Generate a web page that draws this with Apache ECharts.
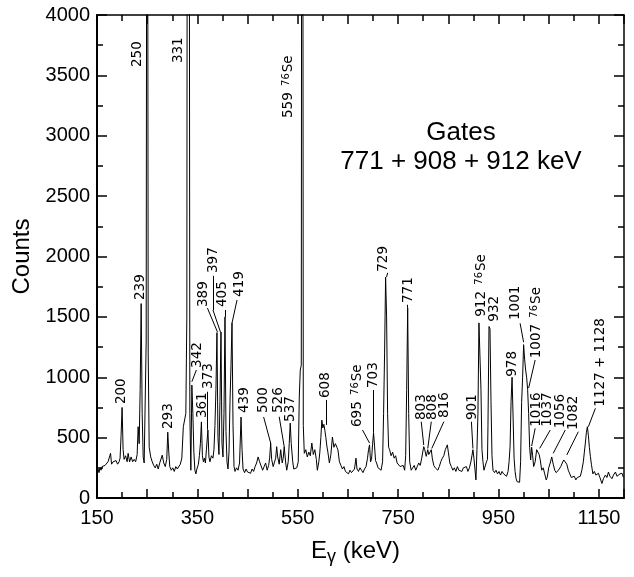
<!DOCTYPE html>
<html>
<head>
<meta charset="utf-8">
<script src="https://cdn.jsdelivr.net/npm/echarts@6/dist/echarts.min.js"></script>
<style>
    html, body {margin: 0; padding: 0; background: #fff;}
    #szChart {width: 634px; height: 577px;}
</style>
</head>
<body>
<div id="szChart"></div>
<script>
// spectrum: energy (keV) and counts
var energy = [150, 152, 154, 156, 158, 160, 163, 166, 169, 172, 175, 177, 179, 182, 185, 188, 191, 194, 196, 198,
    200, 202, 204, 207, 210, 212, 215, 218, 221, 224, 227, 230, 232, 234, 236, 238, 240, 242, 244, 246,
    248, 250, 252, 254, 257, 260, 263, 266, 269, 272, 275, 278, 280, 283, 286, 289, 291, 293, 295, 298,
    301, 304, 307, 310, 313, 316, 319, 322, 325, 327, 329, 331, 333, 335, 337, 339, 341, 343, 345, 347,
    349, 352, 354, 356, 358, 360, 362, 364, 366, 368, 371, 373, 375, 378, 381, 383, 385, 387, 389, 391,
    393, 395, 397, 399, 401, 403, 405, 407, 409, 411, 413, 415, 417, 419, 421, 423, 425, 428, 431, 434,
    437, 439, 441, 444, 447, 450, 453, 456, 459, 462, 465, 468, 471, 474, 477, 480, 483, 486, 489, 492,
    494, 496, 498, 501, 503, 506, 508, 510, 513, 516, 519, 521, 523, 526, 528, 531, 533, 535, 537, 540,
    542, 545, 548, 551, 553, 555, 557, 559, 561, 563, 566, 569, 572, 575, 578, 581, 584, 587, 589, 592,
    594, 596, 598, 600, 602, 604, 606, 608, 610, 613, 616, 619, 622, 625, 628, 630, 633, 636, 639, 642,
    645, 648, 651, 654, 657, 660, 663, 666, 668, 671, 674, 677, 680, 683, 686, 689, 691, 693, 695, 697,
    699, 701, 703, 705, 707, 710, 713, 716, 719, 721, 723, 725, 727, 729, 731, 733, 736, 739, 742, 745,
    748, 751, 754, 757, 760, 763, 765, 767, 769, 771, 773, 776, 779, 782, 785, 788, 791, 794, 797, 799,
    801, 803, 806, 809, 811, 813, 816, 818, 821, 824, 827, 829, 832, 835, 838, 841, 844, 846, 848, 850,
    853, 856, 859, 862, 865, 868, 871, 874, 877, 880, 883, 886, 889, 892, 895, 897, 899, 901, 903, 905,
    907, 909, 911, 913, 915, 917, 919, 921, 923, 926, 928, 929, 931, 933, 935, 937, 939, 942, 945, 948,
    951, 954, 957, 960, 963, 966, 969, 971, 973, 975, 977, 979, 981, 983, 985, 987, 989, 992, 994, 996,
    998, 1000, 1002, 1004, 1006, 1008, 1010, 1012, 1014, 1016, 1018, 1020, 1023, 1026, 1029, 1031, 1033, 1036, 1039, 1042,
    1045, 1047, 1050, 1053, 1056, 1059, 1062, 1065, 1068, 1071, 1074, 1077, 1080, 1083, 1086, 1089, 1092, 1095, 1098, 1101,
    1104, 1107, 1110, 1113, 1116, 1119, 1121, 1123, 1125, 1127, 1129, 1131, 1133, 1135, 1138, 1141, 1144, 1146, 1149, 1152,
    1156, 1159, 1163, 1166, 1169, 1172, 1176, 1179, 1183, 1186, 1189, 1192, 1196, 1199];
var counts = [180, 240, 210, 250, 230, 260, 250, 270, 280, 300, 290, 370, 280, 300, 290, 310, 280, 300, 330, 520,
    750, 400, 320, 350, 300, 370, 300, 340, 300, 320, 300, 360, 590, 450, 900, 1610, 700, 340, 290, 300,
    1300, 9000, 1200, 420, 340, 300, 270, 250, 280, 240, 290, 300, 355, 290, 260, 320, 545, 380, 260, 230,
    250, 220, 260, 240, 250, 280, 330, 590, 600, 700, 1500, 12000, 9000, 700, 230, 935, 700, 380, 230, 200,
    240, 280, 350, 450, 630, 350, 300, 330, 290, 400, 563, 340, 300, 350, 330, 400, 600, 900, 1370, 500,
    360, 800, 1375, 450, 340, 700, 1500, 550, 300, 240, 380, 800, 1100, 1450, 600, 260, 220, 250, 230, 290,
    670, 400, 240, 210, 240, 215, 230, 205, 240, 220, 260, 290, 340, 300, 310, 230, 260, 290, 230, 270,
    330, 455, 320, 260, 250, 330, 425, 340, 280, 400, 290, 330, 425, 290, 230, 300, 450, 620, 450, 300,
    240, 230, 250, 300, 836, 1060, 1100, 12000, 600, 370, 400, 340, 380, 350, 455, 360, 400, 320, 230, 300,
    380, 500, 645, 580, 610, 560, 500, 430, 380, 290, 360, 505, 420, 450, 420, 400, 300, 270, 240, 260,
    220, 230, 200, 230, 210, 220, 240, 330, 240, 220, 250, 230, 210, 240, 260, 330, 400, 440, 300, 320,
    440, 540, 430, 310, 290, 250, 260, 230, 300, 700, 1200, 1830, 1500, 700, 420, 400, 350, 380, 330, 350,
    290, 300, 260, 250, 270, 230, 350, 900, 1575, 700, 300, 230, 250, 270, 230, 260, 290, 270, 330, 380,
    425, 400, 345, 400, 360, 345, 400, 330, 270, 250, 240, 230, 260, 300, 330, 350, 400, 410, 440, 380,
    290, 260, 230, 250, 220, 260, 230, 240, 220, 250, 240, 260, 220, 250, 300, 350, 400, 330, 240, 150,
    400, 700, 1450, 1440, 900, 400, 300, 230, 230, 300, 320, 600, 1420, 1400, 800, 350, 230, 210, 230, 200,
    220, 190, 220, 200, 210, 180, 220, 300, 425, 800, 1000, 670, 330, 220, 160, 135, 140, 130, 300, 790,
    1000, 1270, 1150, 1060, 1000, 900, 700, 420, 315, 420, 350, 260, 300, 400, 415, 360, 320, 230, 250, 200,
    150, 170, 250, 290, 340, 280, 230, 210, 205, 240, 260, 290, 315, 330, 280, 230, 200, 170, 160, 180,
    150, 170, 160, 180, 230, 300, 380, 455, 540, 590, 520, 420, 345, 280, 200, 220, 190, 175, 205, 170,
    120, 160, 190, 170, 215, 180, 160, 190, 215, 180, 175, 200, 205, 170];

// peak labels, anchored at the lower end of the upright text (keV, counts)
var peakLabels = ['200', '239', '250', '331', '559 {s|76}Se', '293', '342', '361', '373', '389', '397', '405', '419',
    '439', '500', '526', '537', '608', '695 {s|76}Se', '703', '729', '771', '803', '808', '816', '901',
    '912 {s|76}Se', '932', '978', '1001', '1007 {s|76}Se', '1016', '1037', '1056', '1082', '1127 + 1128'];
var peakLabelAt = [[198, 778], [236, 1640], [231, 3569], [312, 3602], [531, 3147], [292, 571], [350, 1077], [361, 662],
    [373, 903], [362, 1582], [382, 1863], [400, 1582], [434, 1665], [444, 704], [482, 704], [511, 704], [536, 630],
    [606, 828], [669, 588], [701, 911], [721, 1874], [771, 1615], [796, 646], [819, 646], [842, 663], [899, 646],
    [916, 1501], [941, 1460], [978, 1004], [984, 1474], [1026, 1157], [1026, 590], [1048, 590], [1074, 577],
    [1100, 563], [1154, 756]];
// leader lines from label to peak
var leaders = [
    [[348, 1060], [339, 963]], [[370, 880], [370, 565]], [[370, 1573], [390, 1375]],
    [[381, 1840], [381, 1557]], [[381, 1557], [396, 1375]], [[405, 1557], [405, 1500]],
    [[429, 1640], [419, 1449]], [[482, 671], [496, 455]], [[513, 673], [523, 425]],
    [[606, 812], [606, 605]], [[679, 563], [693, 455]], [[701, 894], [701, 540]],
    [[729, 1865], [727, 1830]], [[769, 1600], [769, 1575]], [[796, 632], [801, 439]],
    [[816, 632], [809, 410]], [[841, 632], [817, 410]], [[896, 632], [899, 410]],
    [[993, 1447], [1000, 1290]], [[1023, 1143], [1010, 910]], [[1023, 577], [1016, 430]],
    [[1053, 563], [1032, 411]], [[1083, 563], [1059, 370]], [[1109, 549], [1086, 356]],
    [[1143, 743], [1129, 590]]];

var xRange = [150, 1200];
var yRange = [0, 4000];

function generateSpectrum() {
    var data = [];
    for (var i = 0; i < energy.length; i++) {
        data.push([energy[i], counts[i]]);
    }
    var labelData = [];
    for (var i = 0; i < peakLabels.length; i++) {
        labelData.push({name: peakLabels[i], coord: peakLabelAt[i]});
    }
    var lineData = [];
    for (var i = 0; i < leaders.length; i++) {
        lineData.push([{coord: leaders[i][0]}, {coord: leaders[i][1]}]);
    }

    var font = 'Liberation Sans';
    var black = '#000';
    function makeXAxis(position, interval, tickLen, showLine, showLabel) {
        return {
            type: 'value', position: position, min: xRange[0], max: xRange[1], interval: interval,
            axisLine: {show: showLine, onZero: false, lineStyle: {color: black, width: position === 'bottom' ? 2 : 1.5}},
            axisTick: {show: true, inside: true, length: tickLen, lineStyle: {color: black, width: 1.5}},
            axisLabel: {
                show: showLabel, color: black, fontSize: 20, fontFamily: font, margin: 10,
                formatter: function (v) {
                    return (v - 150) % 200 === 0 ? String(v) : '';
                }
            },
            splitLine: {show: false}
        };
    }
    function makeYAxis(position, showLabel) {
        return {
            type: 'value', position: position, min: yRange[0], max: yRange[1], interval: 500,
            axisLine: {show: true, onZero: false, lineStyle: {color: black, width: position === 'left' ? 2 : 1.5}},
            axisTick: {show: true, inside: true, length: 10, lineStyle: {color: black, width: 1.5}},
            minorTick: {show: true, splitNumber: 2, length: 6, lineStyle: {color: black, width: 1.5}},
            axisLabel: {
                show: showLabel, color: black, fontSize: 20, fontFamily: font, margin: 7,
                formatter: function (v) {
                    return String(v);
                }
            },
            splitLine: {show: false}
        };
    }

    var xMain = makeXAxis('bottom', 100, 9, true, true);
    xMain.name = 'E{g|γ} (keV)';
    xMain.nameLocation = 'middle';
    xMain.nameGap = 38;
    xMain.nameTextStyle = {
        color: black, fontSize: 24, fontFamily: font, lineHeight: 30, padding: [0, 10, 0, 0],
        rich: {g: {fontSize: 18, fontFamily: font, color: black, verticalAlign: 'bottom', lineHeight: 8}}
    };
    var yMain = makeYAxis('left', true);
    yMain.name = 'Counts';
    yMain.nameLocation = 'middle';
    yMain.nameGap = 58;
    yMain.nameTextStyle = {color: black, fontSize: 24, fontFamily: font};

    var option = {
        animation: false,
        backgroundColor: '#fff',
        grid: {left: 97, right: 10, top: 15, bottom: 79},
        title: {
            text: 'Gates\n771 + 908 + 912 keV',
            left: 456, top: 113, textAlign: 'center',
            textStyle: {color: black, fontSize: 26, fontWeight: 'normal', fontFamily: font, lineHeight: 29}
        },
        xAxis: [
            xMain,
            makeXAxis('bottom', 50, 6, false, false),
            makeXAxis('top', 100, 9, true, false),
            makeXAxis('top', 50, 6, false, false)
        ],
        yAxis: [
            yMain,
            makeYAxis('right', false)
        ],
        series: [{
            name: 'Gates 771 + 908 + 912 keV',
            type: 'line',
            xAxisIndex: 0,
            yAxisIndex: 0,
            data: data,
            symbol: 'none',
            clip: true,
            lineStyle: {color: black, width: 1},
            markPoint: {
                symbol: 'circle',
                symbolSize: 0,
                silent: true,
                itemStyle: {color: 'rgba(0,0,0,0)'},
                label: {
                    show: true, position: 'inside', rotate: 90, align: 'left', verticalAlign: 'middle',
                    color: black, fontSize: 13.5, fontFamily: 'DejaVu Sans',
                    formatter: function (p) {
                        return p.name;
                    },
                    rich: {s: {fontSize: 10, fontFamily: 'DejaVu Sans', color: black, verticalAlign: 'top', padding: [0, 1, 0, 2]}}
                },
                data: labelData
            },
            markLine: {
                silent: true,
                symbol: ['none', 'none'],
                label: {show: false},
                lineStyle: {color: black, width: 1, type: 'solid'},
                data: lineData
            }
        }]
    };
    var szChart = echarts.init(document.getElementById('szChart'));//图表
    szChart.setOption(option);
}

generateSpectrum();
</script>
</body>
</html>
